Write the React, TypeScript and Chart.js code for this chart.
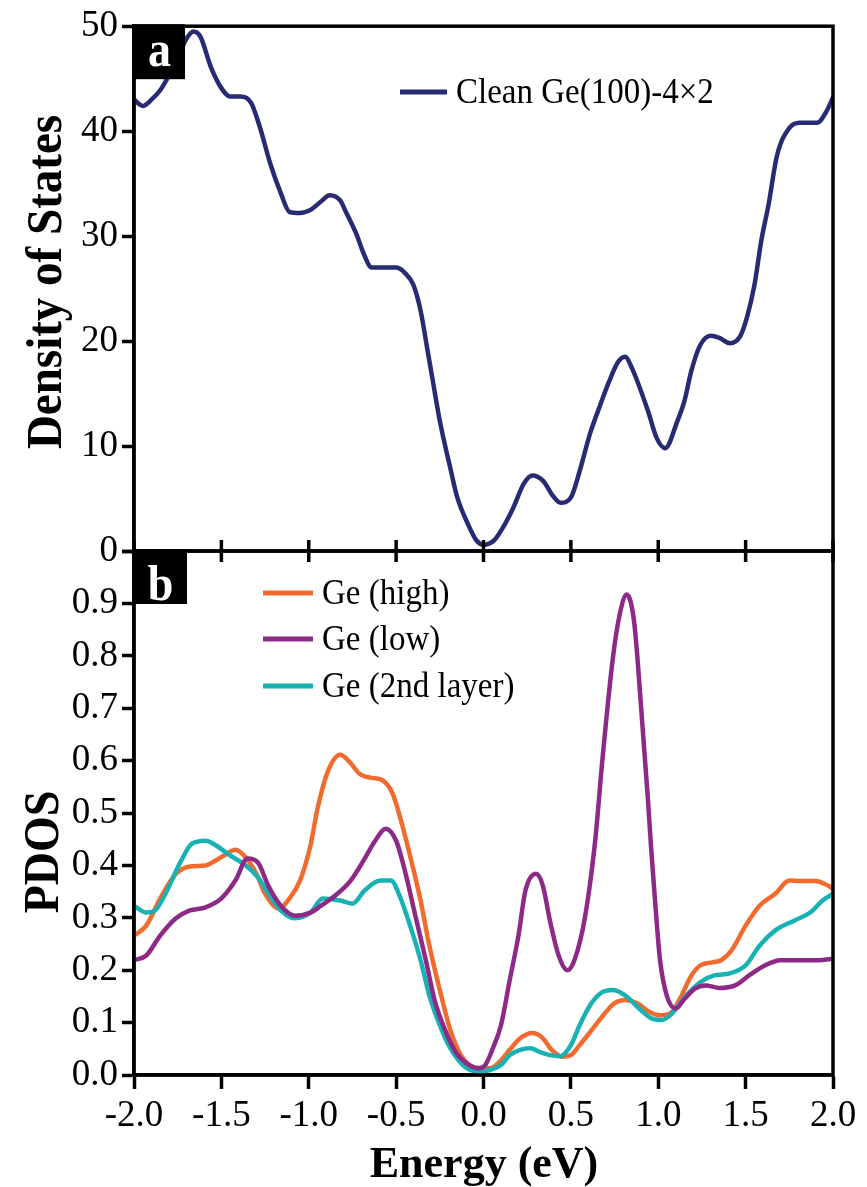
import { useEffect, useRef } from 'react';
import { Chart, registerables } from 'chart.js';

Chart.register(...registerables);

const W = 867;
const H = 1187;
const SERIF = '"Liberation Serif", "Times New Roman", serif';

// Energy axis ticks shared by both panels
const energyTicks = [-2.0, -1.5, -1.0, -0.5, 0.0, 0.5, 1.0, 1.5, 2.0];

// (a) total density of states of the clean surface
const cleanEnergy = [-2.00, -1.95, -1.90, -1.85, -1.80, -1.75, -1.70, -1.66, -1.62, -1.56, -1.50, -1.45, -1.39, -1.33, -1.28, -1.22, -1.16, -1.11, -1.05, -0.99, -0.93, -0.88, -0.82, -0.79, -0.73, -0.68, -0.64, -0.56, -0.50, -0.45, -0.40, -0.36, -0.32, -0.29, -0.25, -0.19, -0.15, -0.09, -0.04, 0.00, 0.06, 0.11, 0.17, 0.23, 0.28, 0.34, 0.40, 0.44, 0.50, 0.55, 0.61, 0.67, 0.72, 0.77, 0.81, 0.85, 0.94, 0.99, 1.04, 1.11, 1.15, 1.19, 1.24, 1.30, 1.35, 1.41, 1.47, 1.51, 1.55, 1.59, 1.63, 1.68, 1.75, 1.81, 1.91, 1.96, 2.00];
const cleanDos = [43.0, 42.4, 43.0, 43.9, 45.3, 47.0, 48.8, 49.5, 49.0, 46.1, 44.1, 43.3, 43.3, 42.7, 40.4, 36.9, 34.1, 32.3, 32.2, 32.5, 33.3, 33.9, 33.4, 32.4, 30.3, 28.1, 27.0, 27.0, 27.0, 26.5, 25.3, 22.9, 19.1, 16.2, 12.4, 7.9, 5.1, 2.6, 1.0, 0.6, 1.0, 2.2, 4.1, 6.4, 7.2, 6.7, 5.2, 4.6, 5.1, 7.6, 11.2, 14.0, 16.2, 18.0, 18.5, 17.4, 13.4, 10.8, 9.8, 12.4, 14.3, 17.2, 19.6, 20.5, 20.3, 19.8, 20.5, 22.4, 25.3, 29.6, 32.9, 37.7, 40.3, 40.8, 40.8, 41.8, 43.2];

// (b) projected DOS of the individual Ge atoms
const highEnergy = [-2.00, -1.93, -1.85, -1.76, -1.68, -1.59, -1.53, -1.48, -1.42, -1.36, -1.30, -1.25, -1.17, -1.11, -1.05, -0.99, -0.95, -0.89, -0.82, -0.76, -0.71, -0.64, -0.58, -0.52, -0.48, -0.42, -0.36, -0.31, -0.25, -0.19, -0.13, -0.08, -0.02, 0.04, 0.10, 0.15, 0.21, 0.28, 0.34, 0.39, 0.45, 0.50, 0.55, 0.62, 0.70, 0.75, 0.81, 0.88, 0.95, 1.01, 1.07, 1.12, 1.19, 1.24, 1.31, 1.36, 1.42, 1.50, 1.58, 1.67, 1.75, 1.81, 1.90, 1.95, 2.00];
const highPdos = [0.266, 0.285, 0.337, 0.384, 0.398, 0.400, 0.410, 0.420, 0.430, 0.415, 0.384, 0.346, 0.318, 0.337, 0.371, 0.438, 0.508, 0.580, 0.611, 0.595, 0.575, 0.567, 0.563, 0.537, 0.495, 0.418, 0.333, 0.247, 0.162, 0.086, 0.038, 0.019, 0.013, 0.013, 0.028, 0.048, 0.070, 0.080, 0.070, 0.048, 0.035, 0.038, 0.057, 0.086, 0.120, 0.137, 0.143, 0.137, 0.120, 0.114, 0.118, 0.143, 0.190, 0.209, 0.215, 0.219, 0.238, 0.285, 0.323, 0.346, 0.371, 0.370, 0.370, 0.365, 0.356];

const lowEnergy = [-2.00, -1.93, -1.85, -1.76, -1.68, -1.59, -1.50, -1.42, -1.35, -1.29, -1.23, -1.16, -1.08, -0.99, -0.93, -0.85, -0.76, -0.68, -0.62, -0.56, -0.50, -0.45, -0.39, -0.33, -0.28, -0.22, -0.16, -0.10, -0.03, 0.01, 0.05, 0.10, 0.15, 0.20, 0.24, 0.30, 0.34, 0.38, 0.43, 0.48, 0.52, 0.58, 0.64, 0.68, 0.74, 0.78, 0.82, 0.86, 0.88, 0.90, 0.92, 0.94, 0.96, 0.98, 1.01, 1.05, 1.10, 1.15, 1.21, 1.27, 1.35, 1.44, 1.52, 1.61, 1.70, 1.81, 1.92, 2.00];
const lowPdos = [0.219, 0.228, 0.266, 0.299, 0.314, 0.320, 0.337, 0.371, 0.413, 0.405, 0.360, 0.323, 0.304, 0.310, 0.323, 0.342, 0.371, 0.413, 0.447, 0.470, 0.447, 0.390, 0.304, 0.219, 0.143, 0.086, 0.044, 0.023, 0.013, 0.019, 0.048, 0.095, 0.181, 0.266, 0.352, 0.384, 0.361, 0.295, 0.228, 0.200, 0.219, 0.300, 0.450, 0.600, 0.795, 0.880, 0.917, 0.870, 0.800, 0.710, 0.620, 0.530, 0.430, 0.340, 0.220, 0.150, 0.127, 0.145, 0.165, 0.171, 0.166, 0.171, 0.190, 0.209, 0.219, 0.219, 0.219, 0.222];

const secondEnergy = [-2.00, -1.93, -1.88, -1.82, -1.73, -1.67, -1.59, -1.53, -1.45, -1.36, -1.29, -1.23, -1.16, -1.08, -0.99, -0.92, -0.82, -0.75, -0.68, -0.59, -0.53, -0.48, -0.42, -0.36, -0.31, -0.25, -0.19, -0.13, -0.08, -0.02, 0.04, 0.10, 0.15, 0.21, 0.27, 0.32, 0.38, 0.44, 0.50, 0.55, 0.61, 0.67, 0.74, 0.81, 0.90, 0.96, 1.02, 1.08, 1.15, 1.24, 1.32, 1.41, 1.50, 1.58, 1.67, 1.78, 1.87, 1.94, 2.00];
const secondPdos = [0.323, 0.310, 0.314, 0.346, 0.409, 0.441, 0.447, 0.438, 0.419, 0.400, 0.377, 0.346, 0.314, 0.299, 0.310, 0.337, 0.333, 0.327, 0.352, 0.371, 0.371, 0.342, 0.285, 0.219, 0.152, 0.095, 0.051, 0.023, 0.010, 0.006, 0.010, 0.019, 0.038, 0.048, 0.051, 0.044, 0.038, 0.036, 0.057, 0.095, 0.133, 0.156, 0.162, 0.152, 0.124, 0.108, 0.105, 0.118, 0.148, 0.177, 0.190, 0.194, 0.209, 0.247, 0.276, 0.295, 0.310, 0.333, 0.346];

const NAVY = '#282b74';
const ORANGE = '#f26b2e';
const PURPLE = '#8d2a87';
const TEAL = '#19b2b4';

const LINE_W = 4.5;
const AXIS_W = 3.5;

const toPoints = (xs: number[], ys: number[]) => xs.map((x, i) => ({ x, y: ys[i] }));

type TextOpts = {
  size: number;
  bold?: boolean;
  color?: string;
  align?: CanvasTextAlign;
  rot?: number;
  sy?: number;
};

function drawText(ctx: CanvasRenderingContext2D, s: string, x: number, y: number, o: TextOpts) {
  ctx.save();
  ctx.translate(x, y);
  if (o.rot) ctx.rotate(o.rot);
  ctx.scale(1, o.sy ?? 1);
  ctx.font = `${o.bold ? 'bold ' : ''}${o.size}px ${SERIF}`;
  ctx.fillStyle = o.color ?? '#000';
  ctx.textAlign = o.align ?? 'left';
  ctx.textBaseline = 'alphabetic';
  ctx.fillText(s, 0, 0);
  ctx.restore();
}

function drawFrame(chart: Chart) {
  const { ctx, chartArea: a } = chart;
  ctx.save();
  ctx.strokeStyle = '#000';
  ctx.lineWidth = AXIS_W;
  ctx.strokeRect(a.left, a.top, a.right - a.left, a.bottom - a.top);
  ctx.restore();
}

function drawPanelTag(chart: Chart, tag: string, w: number, h: number, baseline: number) {
  const { ctx, chartArea: a } = chart;
  ctx.save();
  ctx.fillStyle = '#000';
  ctx.fillRect(a.left, a.top - 2, w, h);
  ctx.restore();
  drawText(ctx, tag, a.left + w / 2, a.top + baseline, { size: 46, bold: true, color: '#fff', align: 'center', sy: 1.1 });
}

function drawLegendRow(ctx: CanvasRenderingContext2D, color: string, label: string, x0: number, x1: number, y: number, size: number) {
  ctx.save();
  ctx.strokeStyle = color;
  ctx.lineWidth = 5;
  ctx.beginPath();
  ctx.moveTo(x0, y);
  ctx.lineTo(x1, y);
  ctx.stroke();
  ctx.restore();
  drawText(ctx, label, x1 + 9, y + 11, { size, sy: 1.1 });
}

const tickFont = { family: SERIF, size: 37 };

export default function App() {
  const topRef = useRef<HTMLCanvasElement>(null);
  const botRef = useRef<HTMLCanvasElement>(null);

  useEffect(() => {
    const topPanel = {
      id: 'topPanel',
      afterDatasetsDraw(chart: Chart) {
        drawPanelTag(chart, 'a', 51, 55, 40);
      },
      afterDraw(chart: Chart) {
        const ctx = chart.ctx;
        drawFrame(chart);
        drawLegendRow(ctx, NAVY, 'Clean Ge(100)-4×2', 400, 447, 92, 33);
        drawText(ctx, 'Density of States', 61, 282, { size: 47, bold: true, align: 'center', rot: -Math.PI / 2, sy: 1.1 });
      },
    };

    const bottomPanel = {
      id: 'bottomPanel',
      afterDatasetsDraw(chart: Chart) {
        drawPanelTag(chart, 'b', 53, 55, 49);
      },
      afterDraw(chart: Chart) {
        const ctx = chart.ctx;
        const a = chart.chartArea;
        const xs = chart.scales.x;
        drawFrame(chart);
        // tick marks crossing the shared border between the panels
        ctx.save();
        ctx.strokeStyle = '#000';
        ctx.lineWidth = AXIS_W;
        ctx.beginPath();
        energyTicks.forEach((e) => {
          const px = xs.getPixelForValue(e);
          ctx.moveTo(px, a.top - 11);
          ctx.lineTo(px, a.top + 11);
        });
        ctx.stroke();
        ctx.restore();
        drawLegendRow(ctx, ORANGE, 'Ge (high)', 263, 313, 593, 33);
        drawLegendRow(ctx, PURPLE, 'Ge (low)', 263, 313, 639, 33);
        drawLegendRow(ctx, TEAL, 'Ge (2nd layer)', 263, 313, 686, 33);
        drawText(ctx, 'PDOS', 58, 852, { size: 46, bold: true, align: 'center', rot: -Math.PI / 2, sy: 1.1 });
        drawText(ctx, 'Energy (eV)', 484, 1177, { size: 44, bold: true, align: 'center' });
      },
    };

    const lineStyle = (color: string) => ({
      borderColor: color,
      backgroundColor: color,
      borderWidth: LINE_W,
      pointRadius: 0,
      fill: false,
      cubicInterpolationMode: 'monotone' as const,
      borderCapStyle: 'round' as const,
      borderJoinStyle: 'round' as const,
    });

    const top = new Chart(topRef.current!, {
      type: 'line',
      data: {
        datasets: [{ label: 'Clean Ge(100)-4×2', data: toPoints(cleanEnergy, cleanDos), ...lineStyle(NAVY) }],
      },
      options: {
        responsive: false,
        animation: false,
        devicePixelRatio: 1,
        events: [],
        layout: { padding: { left: 0, top: 26, right: 34, bottom: H - 551 } },
        plugins: { legend: { display: false }, tooltip: { enabled: false } },
        scales: {
          x: { type: 'linear', min: -2, max: 2, display: false },
          y: {
            type: 'linear',
            min: 0,
            max: 50,
            afterFit: (s: any) => { s.width = 134; },
            ticks: { stepSize: 10, font: tickFont, color: '#000', padding: 4 },
            grid: { drawOnChartArea: false, tickLength: 12, tickWidth: AXIS_W, color: '#000' },
            border: { color: '#000', width: AXIS_W },
          },
        },
      },
      plugins: [topPanel],
    });

    const bottom = new Chart(botRef.current!, {
      type: 'line',
      data: {
        datasets: [
          { label: 'Ge (high)', data: toPoints(highEnergy, highPdos), ...lineStyle(ORANGE), order: 3 },
          { label: 'Ge (low)', data: toPoints(lowEnergy, lowPdos), ...lineStyle(PURPLE), order: 1 },
          { label: 'Ge (2nd layer)', data: toPoints(secondEnergy, secondPdos), ...lineStyle(TEAL), order: 2 },
        ],
      },
      options: {
        responsive: false,
        animation: false,
        devicePixelRatio: 1,
        events: [],
        layout: { padding: { left: 0, top: 551, right: 34, bottom: 0 } },
        plugins: { legend: { display: false }, tooltip: { enabled: false } },
        scales: {
          x: {
            type: 'linear',
            min: -2,
            max: 2,
            afterFit: (s: any) => { s.height = H - 1075; },
            afterBuildTicks: (s: any) => { s.ticks = energyTicks.map((v) => ({ value: v })); },
            ticks: {
              autoSkip: false,
              maxRotation: 0,
              font: tickFont,
              color: '#000',
              padding: 5,
              callback: (v: any) => Number(v).toFixed(1),
            },
            grid: { drawOnChartArea: false, tickLength: 14, tickWidth: AXIS_W, color: '#000' },
            border: { color: '#000', width: AXIS_W },
          },
          y: {
            type: 'linear',
            min: 0,
            max: 1,
            afterFit: (s: any) => { s.width = 134; },
            ticks: {
              stepSize: 0.1,
              font: tickFont,
              color: '#000',
              padding: 4,
              callback: (v: any) => (Math.abs(Number(v) - 1) < 1e-6 ? '' : Number(v).toFixed(1)),
            },
            grid: { drawOnChartArea: false, tickLength: 12, tickWidth: AXIS_W, color: '#000' },
            border: { color: '#000', width: AXIS_W },
          },
        },
      },
      plugins: [bottomPanel],
    });

    return () => {
      top.destroy();
      bottom.destroy();
    };
  }, []);

  const canvasStyle: React.CSSProperties = { position: 'absolute', left: 0, top: 0, width: W, height: H };
  return (
    <div style={{ position: 'absolute', left: 0, top: 0, width: W, height: H, background: '#fff', overflow: 'hidden' }}>
      <canvas ref={topRef} width={W} height={H} style={canvasStyle} />
      <canvas ref={botRef} width={W} height={H} style={canvasStyle} />
    </div>
  );
}
